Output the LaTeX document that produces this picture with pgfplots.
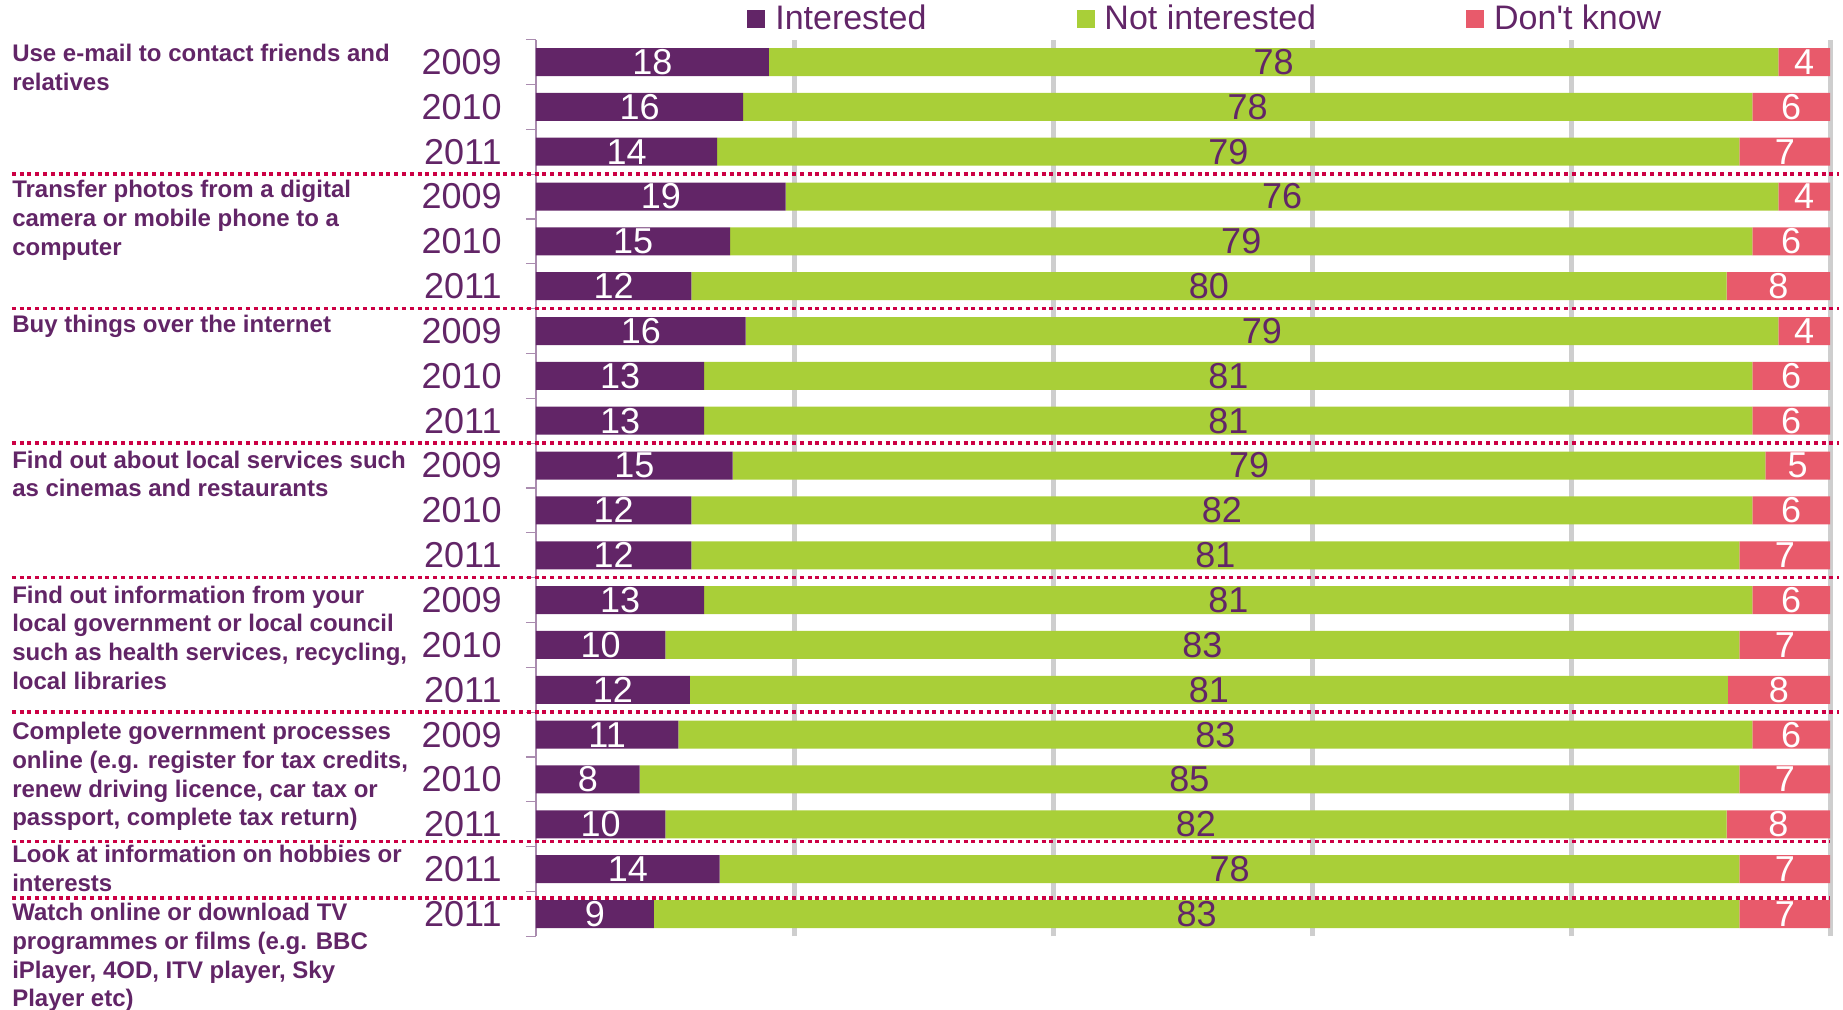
\documentclass[border=0pt]{standalone}
\usepackage{fontspec}
\setmainfont{Liberation Sans}
\usepackage{pgfplots}
\usepackage{pgfplotstable}
\pgfplotsset{compat=1.18}
\definecolor{cpurple}{RGB}{98,37,103}
\definecolor{cgreen}{RGB}{169,207,56}
\definecolor{cpink}{RGB}{232,90,107}
\definecolor{csep}{RGB}{204,0,68}
\definecolor{cgrid}{RGB}{206,206,206}
\definecolor{caxis}{RGB}{170,140,175}

\pgfplotstableread{
y  a    b    c    la lb lc
19 18   78   4    18 78 4
18 16   78   6    16 78 6
17 14   79   7    14 79 7
16 19.3 76.7 4    19 76 4
15 15   79   6    15 79 6
14 12   80   8    12 80 8
13 16.2 79.8 4    16 79 4
12 13   81   6    13 81 6
11 13   81   6    13 81 6
10 15.2 79.8 5    15 79 5
9  12   82   6    12 82 6
8  12   81   7    12 81 7
7  13   81   6    13 81 6
6  10   83   7    10 83 7
5  11.9 80.2 7.9  12 81 8
4  11   83   6    11 83 6
3  8    85   7    8  85 7
2  10   82   8    10 82 8
1  14.2 78.8 7    14 78 7
0  9.1  83.9 7    9  83 7
}\mydata

\newcommand\numfont{\fontsize{18bp}{21bp}\selectfont}
\newcommand\catfont{\fontsize{12bp}{14.4bp}\selectfont\bfseries}
\pgfplotsset{base/.style={
  width=647bp, height=448.4bp, scale only axis,
  xmin=0, xmax=100, ymin=-0.5, ymax=19.5,
  at={(0,0)}, anchor=south west, clip=false,
}}
\tikzset{sepline/.style={csep, line width=1.75bp, dash pattern=on 2bp off 1.9bp},
  catlabel/.style={anchor=north west, inner sep=0pt, align=left, font=\catfont, text=cpurple}}

\begin{document}
\begin{tikzpicture}
\begin{axis}[base,
  xbar stacked, bar width=14bp,
  axis lines*=left, x axis line style={draw=none},
  xtick={20,40,60,80,100}, xticklabels={}, xmajorgrids,
  grid style={cgrid, line width=2.5bp},
  x tick style={draw=none},
  ytick={0,...,19},
  yticklabels={2011,2011,2011,2010,2009,2011,2010,2009,2011,2010,2009,2011,2010,2009,2011,2010,2009,2011,2010,2009},
  minor ytick={-0.5,0.5,...,19.5},
  major tick length=0pt, minor tick length=5bp, tick align=outside,
  y tick style={caxis, line width=0.6bp},
  y axis line style={caxis, line width=0.6bp},
  yticklabel style={font=\numfont, text=cpurple, inner sep=0pt, xshift=-17bp},
  legend columns=3,
  legend image code/.code={\draw[#1, draw=none] (0bp,-4.5bp) rectangle (9bp,4.5bp);},
  legend style={at={(0.163,1.023)}, anchor=west, draw=none, fill=none, inner sep=0pt,
    font=\fontsize{17bp}{20bp}\selectfont,
    /tikz/every odd column/.append style={column sep=3bp},
    /tikz/every even column/.append style={column sep=73bp}},
  legend cell align=left,
]
\addplot[fill=cpurple, draw=none] table[x=a, y=y] {\mydata};
\addlegendentry{\textcolor{cpurple}{Interested}}
\addplot[fill=cgreen, draw=none] table[x=b, y=y] {\mydata};
\addlegendentry{\textcolor{cpurple}{Not interested}}
\addplot[fill=cpink, draw=none] table[x=c, y=y] {\mydata};
\addlegendentry{\textcolor{cpurple}{Don\textquotesingle t know}}

\draw[sepline] (axis cs:-40.5,16.5) -- (axis cs:100.7,16.5);
\draw[sepline] (axis cs:-40.5,13.5) -- (axis cs:100.7,13.5);
\draw[sepline] (axis cs:-40.5,10.5) -- (axis cs:100.7,10.5);
\draw[sepline] (axis cs:-40.5,7.5) -- (axis cs:100.7,7.5);
\draw[sepline] (axis cs:-40.5,4.5) -- (axis cs:100.7,4.5);
\draw[sepline] (axis cs:-40.5,1.62) -- (axis cs:100,1.62);
\draw[sepline] (axis cs:-40.5,0.36) -- (axis cs:100,0.36);

\node[catlabel] at (axis cs:-40.5,19.41) {Use e-mail to contact friends and\\relatives};
\node[catlabel] at (axis cs:-40.5,16.37) {Transfer photos from a digital\\camera or mobile phone to a\\computer};
\node[catlabel] at (axis cs:-40.5,13.36) {Buy things over the internet};
\node[catlabel] at (axis cs:-40.5,10.34) {Find out about local services such\\as cinemas and restaurants};
\node[catlabel] at (axis cs:-40.5,7.33) {Find out information from your\\local government or local council\\such as health services, recycling,\\local libraries};
\node[catlabel] at (axis cs:-40.5,4.29) {Complete government processes\\online (e.g. register for tax credits,\\renew driving licence, car tax or\\passport, complete tax return)};
\node[catlabel] at (axis cs:-40.5,1.54) {Look at information on hobbies or\\interests};
\node[catlabel] at (axis cs:-40.5,0.25) {Watch online or download TV\\programmes or films (e.g. BBC\\iPlayer, 4OD, ITV player, Sky\\Player etc)};

\coordinate (bbsw) at (axis cs:-41.42,-2.119);
\coordinate (bbne) at (axis cs:101.0,20.383);
\end{axis}

\begin{axis}[base, hide axis]
\addplot[draw=none, nodes near coords, point meta=explicit symbolic,
  every node near coord/.style={anchor=center, font=\numfont, text=white, inner sep=0pt}]
  table[x expr=\thisrow{a}/2, y=y, meta=la] {\mydata};
\addplot[draw=none, nodes near coords, point meta=explicit symbolic,
  every node near coord/.style={anchor=center, font=\numfont, text=cpurple, inner sep=0pt}]
  table[x expr=\thisrow{a}+\thisrow{b}/2, y=y, meta=lb] {\mydata};
\addplot[draw=none, nodes near coords, point meta=explicit symbolic,
  every node near coord/.style={anchor=center, font=\numfont, text=white, inner sep=0pt}]
  table[x expr=\thisrow{a}+\thisrow{b}+\thisrow{c}/2, y=y, meta=lc] {\mydata};
\end{axis}

\pgfresetboundingbox
\path[use as bounding box] (bbsw) rectangle (bbne);
\end{tikzpicture}
\end{document}
